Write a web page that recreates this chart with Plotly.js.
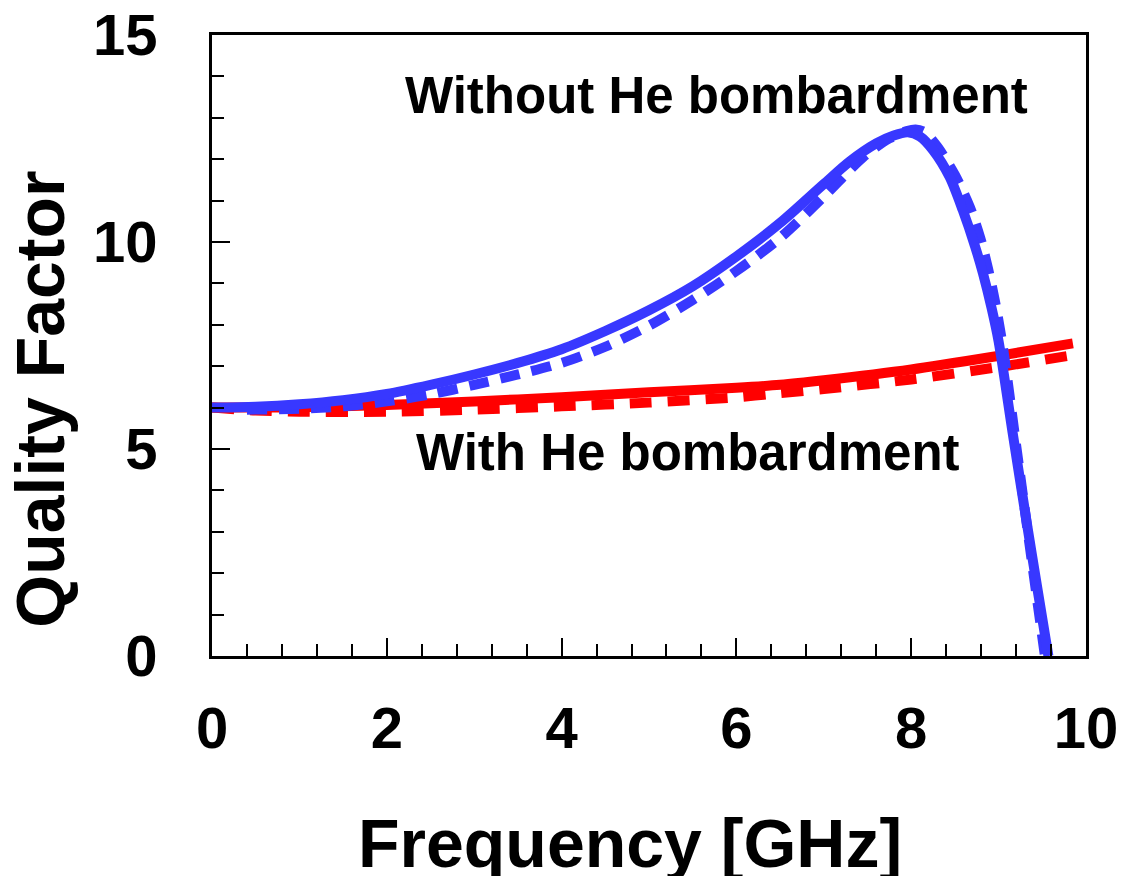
<!DOCTYPE html>
<html>
<head>
<meta charset="utf-8">
<script src="https://cdn.plot.ly/plotly-3.0.1.min.js"></script>
<style>html,body{margin:0;padding:0;background:#fff;}#chart{width:1122px;height:881px;}</style>
</head>
<body>
<div id="chart"></div>
<script>
// Without He bombardment - solid (blue)
const freqBlueSolid = [0, 0.5, 1, 1.5, 2, 2.5, 3, 3.5, 4, 4.5, 5, 5.5, 6, 6.5, 7, 7.3, 7.6, 7.8, 7.96, 8.1, 8.25, 8.44, 8.59, 8.73, 8.82, 8.92, 9.0, 9.16, 9.32, 9.45, 9.57];
const qBlueSolid    = [6.0, 6.02, 6.08, 6.18, 6.33, 6.55, 6.8, 7.08, 7.41, 7.85, 8.35, 8.93, 9.65, 10.46, 11.4, 11.95, 12.38, 12.57, 12.65, 12.55, 12.22, 11.57, 10.77, 9.9, 9.25, 8.4, 7.6, 5.4, 3.25, 1.55, 0];
// Without He bombardment - dashed (blue)
const freqBlueDash  = [0.4, 1, 1.5, 2, 2.5, 3, 3.5, 4, 4.5, 5, 5.5, 6, 6.5, 7, 7.45, 7.75, 7.95, 8.05, 8.15, 8.3, 8.5, 8.67, 8.79, 8.88, 8.96, 9.05, 9.2, 9.36, 9.53];
const qBlueDash     = [5.95, 5.97, 6.03, 6.15, 6.32, 6.55, 6.8, 7.08, 7.47, 7.98, 8.6, 9.3, 10.1, 11.1, 12.05, 12.5, 12.68, 12.72, 12.66, 12.3, 11.62, 10.85, 10.1, 9.35, 8.55, 7.45, 5.1, 2.6, 0];
// With He bombardment - solid (red)
const freqRedSolid  = [0, 1, 2, 3, 4, 5, 6, 6.5, 7, 8, 9, 9.85];
const qRedSolid     = [6.0, 6.01, 6.06, 6.15, 6.25, 6.37, 6.48, 6.55, 6.66, 6.92, 7.25, 7.55];
// With He bombardment - dashed (red)
const freqRedDash   = [0, 0.5, 1, 2, 3, 4, 5, 6, 6.5, 7, 8, 9, 9.8];
const qRedDash      = [6.0, 5.93, 5.9, 5.9, 5.95, 6.03, 6.12, 6.25, 6.35, 6.45, 6.68, 6.98, 7.25];

const labelWithout = "Without He bombardment";
const labelWith = "With He bombardment";
const xTitle = "Frequency [GHz]";
const yTitle = "Quality Factor";

const BLUE = "rgb(56,56,255)";
const RED = "rgb(255,0,0)";
const FONT = "Liberation Sans, Arial, sans-serif";

const traces = [
  {x: freqRedDash, y: qRedDash, mode: "lines", line: {color: RED, width: 10, dash: "22px,16px", shape: "spline", smoothing: 0.8}, hoverinfo: "skip"},
  {x: freqRedSolid, y: qRedSolid, mode: "lines", line: {color: RED, width: 10, shape: "spline", smoothing: 0.8}, hoverinfo: "skip"},
  {x: freqBlueDash, y: qBlueDash, mode: "lines", line: {color: BLUE, width: 10, dash: "20px,12px", shape: "spline", smoothing: 0.8}, hoverinfo: "skip"},
  {x: freqBlueSolid, y: qBlueSolid, mode: "lines", line: {color: BLUE, width: 10, shape: "spline", smoothing: 0.8}, hoverinfo: "skip"}
];

const axisCommon = {
  showgrid: false, zeroline: false,
  showline: true, linecolor: "black", linewidth: 3, mirror: true,
  ticks: "inside", tickcolor: "black", tickwidth: 2, ticklen: 18,
  tickfont: {family: FONT, size: 58, color: "black", weight: 700}
};

const layout = {
  width: 1122, height: 881,
  margin: {l: 212, r: 36, t: 35, b: 225},
  paper_bgcolor: "white", plot_bgcolor: "white",
  showlegend: false,
  xaxis: Object.assign({}, axisCommon, {
    range: [0, 10], dtick: 2, tick0: 0,
    ticklabelstandoff: 19,
    minor: {dtick: 0.4, ticks: "inside", ticklen: 12, tickwidth: 2, tickcolor: "black", showgrid: false}
  }),
  yaxis: Object.assign({}, axisCommon, {
    range: [0, 15], dtick: 5, tick0: 0,
    ticklabelstandoff: 40,
    minor: {dtick: 1, ticks: "inside", ticklen: 12, tickwidth: 2, tickcolor: "black", showgrid: false}
  }),
  annotations: [
    {text: labelWithout, xref: "paper", yref: "paper", x: 0.5767, y: 0.903, showarrow: false, xanchor: "center", yanchor: "middle",
     font: {family: FONT, size: 51, color: "black", weight: 700}},
    {text: labelWith, xref: "paper", yref: "paper", x: 0.5446, y: 0.3285, showarrow: false, xanchor: "center", yanchor: "middle",
     font: {family: FONT, size: 51, color: "black", weight: 700}},
    {text: xTitle, xref: "paper", yref: "paper", x: 0.478, y: -0.301, showarrow: false, xanchor: "center", yanchor: "middle", height: 66,
     font: {family: FONT, size: 68, color: "black", weight: 700}},
    {text: yTitle, xref: "paper", yref: "paper", x: -0.197, y: 0.414, showarrow: false, xanchor: "center", yanchor: "middle", textangle: -90,
     font: {family: FONT, size: 68, color: "black", weight: 700}}
  ]
};

Plotly.newPlot("chart", traces, layout, {staticPlot: true, displayModeBar: false});
</script>
</body>
</html>
